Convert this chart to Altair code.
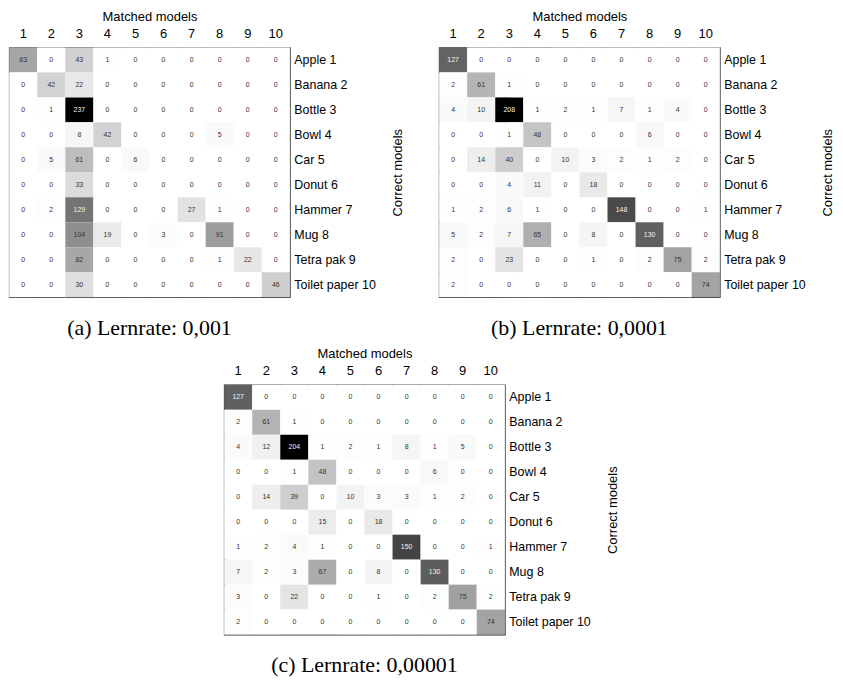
import altair as alt
import pandas as pd

cols = [str(i) for i in range(1, 11)]
row_labels = ["Apple 1", "Banana 2", "Bottle 3", "Bowl 4", "Car 5", "Donut 6",
              "Hammer 7", "Mug 8", "Tetra pak 9", "Toilet paper 10"]

matrix_a = [
    [83, 0, 43, 1, 0, 0, 0, 0, 0, 0],
    [0, 42, 22, 0, 0, 0, 0, 0, 0, 0],
    [0, 1, 237, 0, 0, 0, 0, 0, 0, 0],
    [0, 0, 8, 42, 0, 0, 0, 5, 0, 0],
    [0, 5, 61, 0, 6, 0, 0, 0, 0, 0],
    [0, 0, 33, 0, 0, 0, 0, 0, 0, 0],
    [0, 2, 129, 0, 0, 0, 27, 1, 0, 0],
    [0, 0, 104, 19, 0, 3, 0, 91, 0, 0],
    [0, 0, 82, 0, 0, 0, 0, 1, 22, 0],
    [0, 0, 30, 0, 0, 0, 0, 0, 0, 46],
]
matrix_b = [
    [127, 0, 0, 0, 0, 0, 0, 0, 0, 0],
    [2, 61, 1, 0, 0, 0, 0, 0, 0, 0],
    [4, 10, 208, 1, 2, 1, 7, 1, 4, 0],
    [0, 0, 1, 48, 0, 0, 0, 6, 0, 0],
    [0, 14, 40, 0, 10, 3, 2, 1, 2, 0],
    [0, 0, 4, 11, 0, 18, 0, 0, 0, 0],
    [1, 2, 6, 1, 0, 0, 148, 0, 0, 1],
    [5, 2, 7, 65, 0, 8, 0, 130, 0, 0],
    [2, 0, 23, 0, 0, 1, 0, 2, 75, 2],
    [2, 0, 0, 0, 0, 0, 0, 0, 0, 74],
]
matrix_c = [
    [127, 0, 0, 0, 0, 0, 0, 0, 0, 0],
    [2, 61, 1, 0, 0, 0, 0, 0, 0, 0],
    [4, 12, 204, 1, 2, 1, 8, 1, 5, 0],
    [0, 0, 1, 48, 0, 0, 0, 6, 0, 0],
    [0, 14, 39, 0, 10, 3, 3, 1, 2, 0],
    [0, 0, 0, 15, 0, 18, 0, 0, 0, 0],
    [1, 2, 4, 1, 0, 0, 150, 0, 0, 1],
    [7, 2, 3, 67, 0, 8, 0, 130, 0, 0],
    [3, 0, 22, 0, 0, 1, 0, 2, 75, 2],
    [2, 0, 0, 0, 0, 0, 0, 0, 0, 74],
]
captions = ["(a) Lernrate: 0,001", "(b) Lernrate: 0,0001", "(c) Lernrate: 0,00001"]

SANS = "Liberation Sans"


def panel(matrix, caption):
    mx = max(max(r) for r in matrix)
    recs = []
    for i, r in enumerate(matrix):
        for j, v in enumerate(r):
            recs.append({"row": row_labels[i], "col": cols[j], "v": v, "dark": v / mx > 0.5})
    df = pd.DataFrame(recs)
    base = alt.Chart(df).encode(
        x=alt.X("col:N", sort=cols,
                axis=alt.Axis(orient="top", title="Matched models", labelAngle=0,
                              ticks=False, domain=False, labelFontSize=13,
                              titleFontSize=13, titleFontWeight="normal",
                              labelPadding=7, titlePadding=4, labelFont=SANS,
                              titleFont=SANS, labelColor="black", titleColor="black")),
        y=alt.Y("row:N", sort=row_labels,
                axis=alt.Axis(orient="right", title="Correct models", ticks=False,
                              domain=False, labelFontSize=12.5, titleFontSize=13,
                              titleFontWeight="normal", labelPadding=4,
                              titlePadding=29, titleAngle=270, labelFont=SANS,
                              titleFont=SANS, labelColor="black", titleColor="black")),
    )
    rect = base.mark_rect(strokeWidth=0).encode(
        color=alt.Color("v:Q", legend=None,
                        scale=alt.Scale(domain=[0, mx], range=["#ffffff", "#000000"],
                                        interpolate="rgb")))
    text = base.mark_text(fontSize=7, font=SANS).encode(
        text="v:Q",
        color=alt.condition("datum.dark", alt.value("#f2f2f2"), alt.value("#333333")))
    return (rect + text).properties(
        width=282, height=251,
        title=alt.TitleParams(caption, orient="bottom", anchor="middle", frame="group",
                              font="Liberation Serif", fontSize=22, fontWeight="normal",
                              offset=21, color="black"),
    ).resolve_scale(color="independent")


pa = panel(matrix_a, captions[0])
pb = panel(matrix_b, captions[1])
pc = panel(matrix_c, captions[2])

top = alt.hconcat(pa, pb, spacing=33).resolve_scale(color="independent")
chart = alt.vconcat(top, pc, spacing=7, center=True).resolve_scale(
    color="independent"
).configure(padding=0).configure_view(stroke="#333333", strokeWidth=1.2)

chart.save("out.html", embed_options={"renderer": "svg", "actions": False})
